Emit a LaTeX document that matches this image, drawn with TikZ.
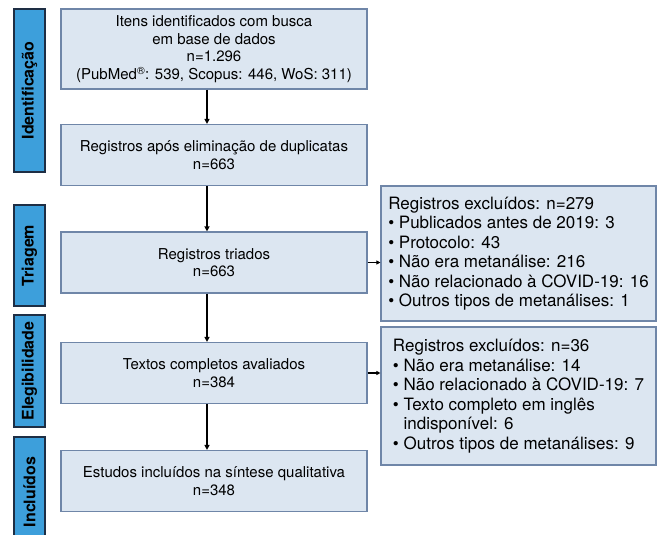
\documentclass[tikz,border=0pt]{standalone}
\usepackage{fontspec}
\setmainfont{TeX Gyre Heros}
\usetikzlibrary{positioning,arrows.meta}
\definecolor{boxfill}{HTML}{DCE6F1}
\definecolor{boxline}{HTML}{6F86A8}
\definecolor{phasefill}{HTML}{3D9FDB}
\definecolor{phaseline}{HTML}{1E2E44}

\tikzset{
  stage/.style={draw=boxline, fill=boxfill, line width=1.2pt, minimum width=306pt,
    minimum height=61pt, align=center, inner sep=0pt, font=\fontsize{15}{17.7}\selectfont},
  excl/.style={draw=boxline, fill=boxfill, line width=1.2pt, minimum width=275pt,
    align=left, inner sep=0pt, font=\fontsize{17}{19.5}\selectfont},
  phase/.style={draw=phaseline, fill=phasefill, line width=1.4pt, minimum height=31pt,
    inner sep=0pt, rotate=90, font=\bfseries\fontsize{16}{18}\selectfont},
  flow/.style={-{Triangle[length=5pt,width=5pt]}, line width=1.7pt},
  side/.style={-{Triangle[length=4pt,width=4pt]}, line width=1.2pt},
}

\begin{document}
\begin{tikzpicture}[on grid]
   \useasboundingbox (0,0) rectangle (662pt,-535pt);

   % phases
   \node[phase, minimum width=163pt] (p1) at (29.5pt,-90.5pt)  {Identificação};
   \node[phase, minimum width=101pt] (p2) at (29.5pt,-255.5pt) {Triagem};
   \node[phase, minimum width=112pt] (p3) at (29.5pt,-371pt)   {Elegibilidade};
   \node[phase, minimum width=110pt] (p4) at (29.5pt,-492pt)   {Incluídos};

   % main flow
   \node[stage, minimum height=80pt] (ident) at (214pt,-49pt)
     {Itens identificados com busca\\ em base de dados\\ n=1.296\\
      (PubMed\textsuperscript{®}: 539, Scopus: 446, WoS: 311)};
   \node[stage] (dup)  [below=106pt of ident] {Registros após eliminação de duplicatas\\ n=663};
   \node[stage] (tri)  [below=107.5pt of dup] {Registros triados\\ n=663};
   \node[stage] (full) [below=110.5pt of tri] {Textos completos avaliados\\ n=384};
   \node[stage] (incl) [below=108pt of full]  {Estudos incluídos na síntese qualitativa\\ n=348};

   % exclusions
   \node[excl, minimum height=135pt] (ex1) at (518.5pt,-253.5pt)
     {Registros excluídos: n=279\\
      \textbullet\ Publicados antes de 2019: 3\\
      \textbullet\ Protocolo: 43\\
      \textbullet\ Não era metanálise: 216\\
      \textbullet\ Não relacionado à COVID-19: 16\\
      \textbullet\ Outros tipos de metanálises: 1};
   \node[excl, minimum height=138pt] (ex2) [below=142.5pt of ex1]
     {Registros excluídos: n=36\\
      \textbullet\ Não era metanálise: 14\\
      \textbullet\ Não relacionado à COVID-19: 7\\
      \textbullet\ Texto completo em inglês\\
      \phantom{\textbullet\ }indisponível: 6\\
      \textbullet\ Outros tipos de metanálises: 9};

   \path[flow]
    ([xshift=-7pt]ident.south) edge ([xshift=-7pt]dup.north)
    ([xshift=-7pt]dup.south)   edge ([xshift=-7pt]tri.north)
    ([xshift=-7pt]tri.south)   edge ([xshift=-7pt]full.north)
    ([xshift=-7pt]full.south)  edge ([xshift=-7pt]incl.north);
   \path[side]
    (tri.east)  edge (tri.east -| ex1.west)
    (full.east) edge (full.east -| ex2.west);
\end{tikzpicture}
\end{document}
